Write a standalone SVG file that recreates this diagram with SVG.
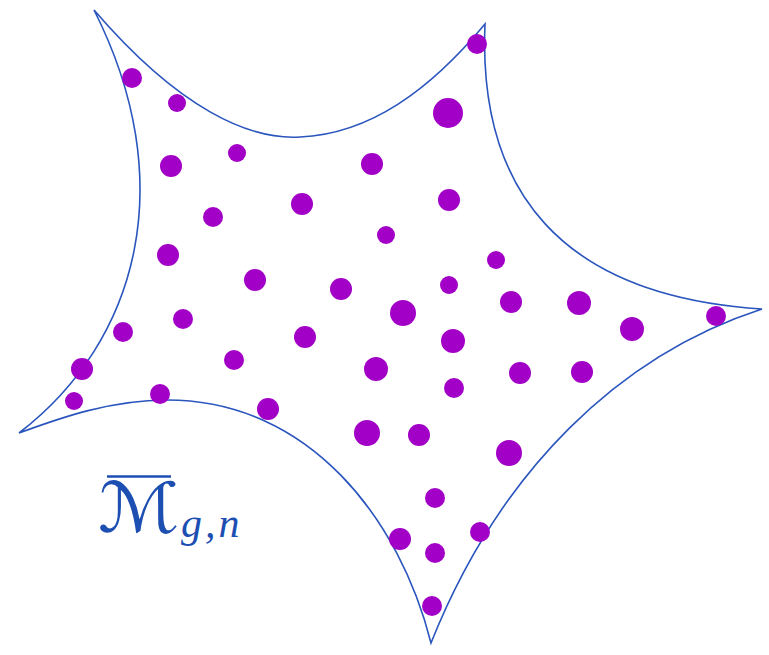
<svg xmlns="http://www.w3.org/2000/svg" width="769" height="655" viewBox="0 0 769 655">
<style>
.edge{fill:none;stroke:#2a55bd;stroke-width:1.6;stroke-linejoin:miter}
.dot{fill:#a200c6}
.lbl{fill:#1d4fb2}
</style>
<rect width="769" height="655" fill="#fff"/>
<g id="outline">
<path class="edge" d="M94,10 C180,110 250,140 300,137 C370,134 430,90 485,24 C478,190 560,296 762,309 C620,355 500,470 431,643 C400,520 310,400 167,400 C110,400 60,418 19,433 C140,340 180,180 94,10 Z"/>
</g>
<g id="points">
<circle class="dot" cx="132" cy="78" r="10"/>
<circle class="dot" cx="177" cy="103" r="9"/>
<circle class="dot" cx="477" cy="44" r="10"/>
<circle class="dot" cx="448" cy="113" r="15"/>
<circle class="dot" cx="171" cy="166" r="11"/>
<circle class="dot" cx="237" cy="153" r="9"/>
<circle class="dot" cx="372" cy="164" r="11"/>
<circle class="dot" cx="302" cy="204" r="11"/>
<circle class="dot" cx="449" cy="200" r="11"/>
<circle class="dot" cx="213" cy="217" r="10"/>
<circle class="dot" cx="386" cy="235" r="9"/>
<circle class="dot" cx="168" cy="255" r="11"/>
<circle class="dot" cx="496" cy="260" r="9"/>
<circle class="dot" cx="255" cy="280" r="11"/>
<circle class="dot" cx="341" cy="289" r="11"/>
<circle class="dot" cx="449" cy="285" r="9"/>
<circle class="dot" cx="403" cy="313" r="13"/>
<circle class="dot" cx="511" cy="302" r="11"/>
<circle class="dot" cx="579" cy="303" r="12"/>
<circle class="dot" cx="632" cy="329" r="12"/>
<circle class="dot" cx="716" cy="316" r="10"/>
<circle class="dot" cx="123" cy="332" r="10"/>
<circle class="dot" cx="183" cy="319" r="10"/>
<circle class="dot" cx="305" cy="337" r="11"/>
<circle class="dot" cx="453" cy="341" r="12"/>
<circle class="dot" cx="234" cy="360" r="10"/>
<circle class="dot" cx="376" cy="369" r="12"/>
<circle class="dot" cx="82" cy="369" r="11"/>
<circle class="dot" cx="454" cy="388" r="10"/>
<circle class="dot" cx="520" cy="373" r="11"/>
<circle class="dot" cx="582" cy="372" r="11"/>
<circle class="dot" cx="74" cy="401" r="9"/>
<circle class="dot" cx="160" cy="394" r="10"/>
<circle class="dot" cx="268" cy="409" r="11"/>
<circle class="dot" cx="367" cy="433" r="13"/>
<circle class="dot" cx="419" cy="435" r="11"/>
<circle class="dot" cx="509" cy="453" r="13"/>
<circle class="dot" cx="435" cy="498" r="10"/>
<circle class="dot" cx="400" cy="539" r="11"/>
<circle class="dot" cx="480" cy="532" r="10"/>
<circle class="dot" cx="435" cy="553" r="10"/>
<circle class="dot" cx="432" cy="606" r="10"/>
</g>
<g id="label">
<line x1="107" y1="476.5" x2="171" y2="476.5" stroke="#1d4fb2" stroke-width="2.5"/>
<text class="lbl" transform="translate(98,532) scale(1.06,0.96)" font-family="'DejaVu Serif', 'DejaVu Sans', serif" font-size="72">ℳ</text>
<text class="lbl" x="181" y="537" font-family="'Liberation Serif', serif" font-style="italic" font-size="42" letter-spacing="3">g,n</text>
</g>
</svg>
